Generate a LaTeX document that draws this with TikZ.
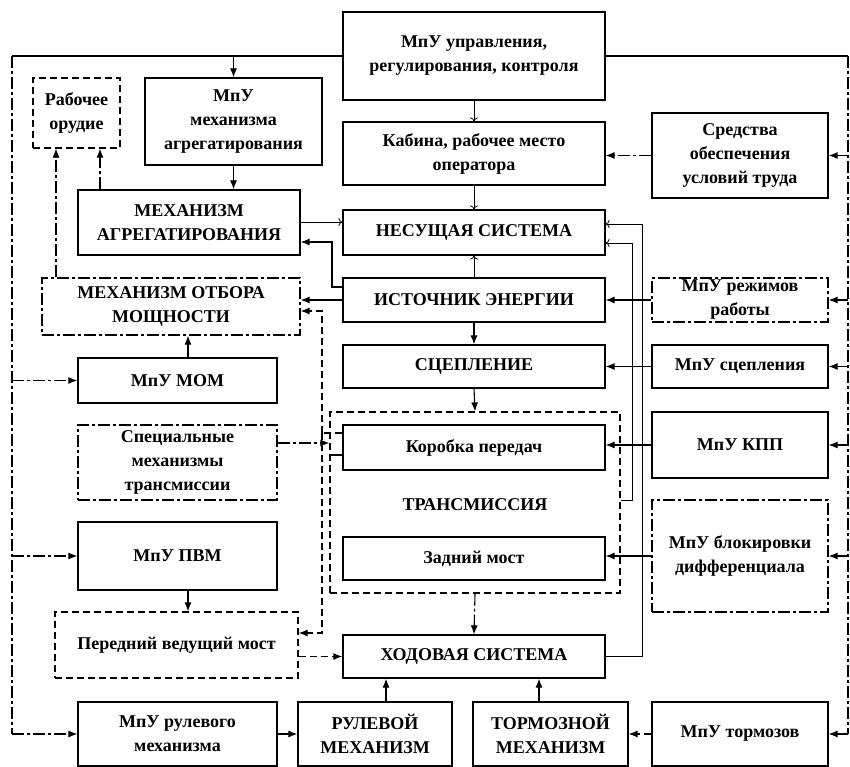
\documentclass[tikz,border=0pt]{standalone}
\usepackage{fontspec}
\setmainfont{Liberation Serif}
\usetikzlibrary{arrows.meta}
\begin{document}
\begin{tikzpicture}[x=1pt,y=-1pt,
  box/.style={draw,line width=1.2pt,align=center,inner sep=0pt,font=\fontsize{18}{24}\selectfont\bfseries},
  dbox/.style={box,dash pattern=on 7pt off 4pt},
  ddbox/.style={box,dash pattern=on 12pt off 3pt on 3pt off 3pt},
  ln/.style={line width=1.1pt},
  fa/.style={ln,-{Latex[length=9pt,width=7pt]}},
  ta/.style={line width=0.8pt,-{To[length=4pt,width=8pt]}},
  dd/.style={dash pattern=on 12pt off 3pt on 3pt off 3pt},
  ds/.style={dash pattern=on 7pt off 4pt}]
\useasboundingbox (0,0) rectangle (850,767);
% boxes
\node[box,minimum width=262pt,minimum height=88pt] (upr) at (474,56) {МпУ управления,\\регулирования, контроля};
\node[dbox,minimum width=87pt,minimum height=70pt] (rab) at (76.5,113) {Рабочее\\орудие};
\node[box,minimum width=177pt,minimum height=87pt] (mumag) at (233.5,121.5) {МпУ\\механизма\\агрегатирования};
\node[box,minimum width=262pt,minimum height=63pt] (kab) at (474,153.5) {Кабина, рабочее место\\оператора};
\node[box,minimum width=176pt,minimum height=85pt] (sred) at (740,155.5) {Средства\\обеспечения\\условий труда};
\node[box,minimum width=222pt,minimum height=65pt] (mag) at (189,222.5) {МЕХАНИЗМ\\АГРЕГАТИРОВАНИЯ};
\node[box,minimum width=262pt,minimum height=45pt] (nes) at (474,232.5) {НЕСУЩАЯ СИСТЕМА};
\node[box,minimum width=262pt,minimum height=44pt] (ist) at (474,300) {ИСТОЧНИК ЭНЕРГИИ};
\node[ddbox,minimum width=258pt,minimum height=57pt] (mom) at (171,306.5) {МЕХАНИЗМ ОТБОРА\\МОЩНОСТИ};
\node[ddbox,minimum width=176pt,minimum height=44pt] (rez) at (740,300) {МпУ режимов\\работы};
\node[box,minimum width=262pt,minimum height=43pt] (scep) at (474,366.5) {СЦЕПЛЕНИЕ};
\node[box,minimum width=176pt,minimum height=43pt] (muscep) at (740,366.5) {МпУ сцепления};
\node[box,minimum width=199pt,minimum height=45pt] (mumom) at (177.5,380.5) {МпУ МОМ};
\node[dbox,minimum width=290pt,minimum height=181pt] (trans) at (475,502.5) {};
\node[font=\fontsize{18}{24}\selectfont\bfseries] (translbl) at (475,505) {ТРАНСМИССИЯ};
\node[box,minimum width=262pt,minimum height=45pt] (kpp) at (474,447.5) {Коробка передач};
\node[box,minimum width=176pt,minimum height=66pt] (mukpp) at (740,445) {МпУ КПП};
\node[ddbox,minimum width=199pt,minimum height=75pt] (spec) at (177.5,462.5) {Специальные\\механизмы\\трансмиссии};
\node[box,minimum width=262pt,minimum height=43pt] (zad) at (474,558.5) {Задний мост};
\node[ddbox,minimum width=176pt,minimum height=112pt] (mublok) at (740,556) {МпУ блокировки\\дифференциала};
\node[box,minimum width=199pt,minimum height=68pt] (mupvm) at (177.5,556) {МпУ ПВМ};
\node[dbox,minimum width=243pt,minimum height=66pt] (per) at (176.5,645) {Передний ведущий мост};
\node[box,minimum width=262pt,minimum height=43pt] (hod) at (474,656.5) {ХОДОВАЯ СИСТЕМА};
\node[box,minimum width=199pt,minimum height=64pt] (murul) at (177.5,734) {МпУ рулевого\\механизма};
\node[box,minimum width=154pt,minimum height=64pt] (rul) at (375,734) {РУЛЕВОЙ\\МЕХАНИЗМ};
\node[box,minimum width=155pt,minimum height=64pt] (torm) at (550.5,734) {ТОРМОЗНОЙ\\МЕХАНИЗМ};
\node[box,minimum width=176pt,minimum height=64pt] (mutorm) at (740,734) {МпУ тормозов};
% left control bus
\coordinate (L0) at (12,56);
\coordinate (L6) at (12,734);
\draw[ln] (upr.west) -- (L0);
\draw[ln,dd] (L0) -- (L6);
\draw[fa] (mumag.north |- L0) -- (mumag.north);
\draw[fa,dd] (L0 |- mumom.west) -- (mumom.west);
\draw[fa,dd] (L0 |- mupvm.west) -- (mupvm.west);
\draw[fa,dd] (L6) -- (murul.west);
% right control bus
\coordinate (R0) at (848,56);
\coordinate (R6) at (848,734);
\draw[ln] (upr.east) -- (R0);
\draw[ln,dd] (R0) -- (R6);
\draw[fa,dd] (R0 |- sred.east) -- (sred.east);
\draw[fa,dd] (R0 |- rez.east) -- (rez.east);
\draw[fa,dd] (R0 |- muscep.east) -- (muscep.east);
\draw[fa,dd] (R0 |- mukpp.east) -- (mukpp.east);
\draw[fa,dd] (R0 |- mublok.east) -- (mublok.east);
\draw[fa,dd] (R6) -- (mutorm.east);
% control units to mechanisms
\draw[fa,dd] (sred.west) -- (kab.east |- sred.west);
\draw[fa] (rez.west) -- (ist.east);
\draw[fa] (muscep.west) -- (scep.east);
\draw[fa] (mukpp.west) -- (kpp.east |- mukpp.west);
\draw[fa] (mublok.west) -- (zad.east |- mublok.west);
\draw[fa,ds] (mutorm.west) -- (torm.east);
\draw[fa] (murul.east) -- (rul.west);
% central chain
\draw[ta] (upr.south) -- (kab.north);
\draw[ta] (kab.south) -- (nes.north);
\draw[ta] (ist.north) -- (nes.south);
\draw[fa] (ist.south) -- (scep.north);
\draw[fa] (scep.south) -- (trans.north);
\draw[fa,dd] (trans.south) -- (hod.north);
\draw[fa] (rul.north -| 386,0) -- (hod.south -| 386,0);
\draw[fa] (torm.north -| 539,0) -- (hod.south -| 539,0);
% left column
\draw[fa] (mumag.south) -- (mag.north -| mumag.south);
\draw[fa,dd] (mag.north -| 100,0) -- (rab.south -| 100,0);
\draw[fa,dd] (mom.north -| 56,0) -- (rab.south -| 56,0);
\draw[ta] (mag.east |- 0,222) -- (nes.west |- 0,222);
\draw[fa] (ist.west |- 0,287) -- (332,287) -- (332,242) -- (mag.east |- 0,242);
\draw[fa] (ist.west) -- (mom.east |- ist.west);
\draw[fa] (mumom.north -| 188,0) -- (mom.south -| 188,0);
\draw[fa,dd] (mupvm.south -| 188,0) -- (per.north -| 188,0);
% power take-off from gearbox
\coordinate (J) at (322,433);
\draw[ln,ds] (kpp.west |- J) -- (J);
\draw[fa,ds] (J) -- (322,311) -- (mom.east |- 0,311);
\draw[fa,ds] (J) -- (322,633) -- (per.east |- 0,633);
\draw[fa,dd] (spec.east |- 0,443) -- (trans.west |- 0,443);
\draw[ln] (trans.west |- 0,455) -- (kpp.west |- 0,455);
\draw[fa,ds] (per.east |- hod.west) -- (hod.west);
% feedback to load-bearing system
\draw[ta] (trans.east |- 0,500) -- (632,500) -- (632,243) -- (nes.east |- 0,243);
\draw[ta] (hod.east) -- (642,656.5) -- (642,224) -- (nes.east |- 0,224);
\end{tikzpicture}
\end{document}
